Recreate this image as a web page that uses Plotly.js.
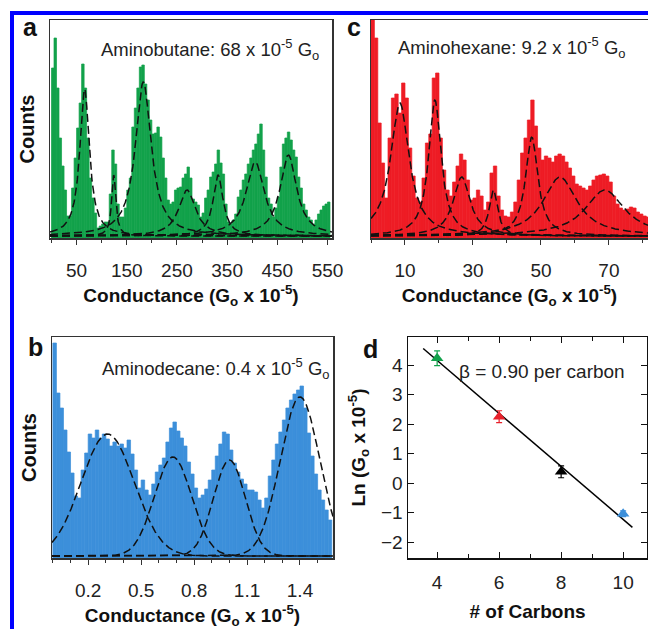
<!DOCTYPE html>
<html><head><meta charset="utf-8">
<script src="https://cdn.plot.ly/plotly-3.0.1.min.js"></script>
<style>html,body{margin:0;padding:0;background:#fff}</style>
</head><body><div id="chart" style="width:648px;height:629px"></div>
<script>
// ---------- Panel a : Aminobutane histogram (5-unit bins starting at 0) ----------
const binStartA = 0, binWidthA = 5;
const histA = [170,200,150,100,72,48,22,22,50,80, 110,135,174,150,100,60,40,25,10,12,
               14,16,16,44,88,74,34,21,21,30, 48,60,111,130,150,171,173,154,138,118,
               104,105,111,101,80,60,38,34,36,48, 50,51,60,64,71,60,39,36,33,21,
               25,40,48,61,66,74,88,75,64,34, 16,14,18,24,41,48,58,64,74,80,
               88,94,104,114,88,61,40,34,21,30, 41,71,94,100,106,98,88,81,61,50,
               34,28,21,18,14,18,24,28,32,34, 36];
const fitA_center = [66, 124, 183, 270, 332, 406, 472];
const fitA_height = [147, 61, 154, 46, 61, 74, 81];
const fitA_width  = [11.5, 5, 19, 20, 12, 22, 20];

// ---------- Panel c : Aminohexane histogram (1-unit bins starting at 0) ----------
const binStartC = 0, binWidthC = 1;
const histC = [230,200,115,75,40,100,140,144,125,155, 140,90,62,40,36,60,95,104,160,165,
               100,68,48,42,56,72,84,78,58,38, 40,48,42,28,36,65,72,42,28,22,
               21,26,36,58,85,100,118,138,112,90, 78,82,80,76,82,84,82,76,70,62,
               54,52,50,48,52,58,62,63,64,62, 56,42,34,30,28,29,31,30,26,24, 22,21];
const fitC_center = [8.5, 18.8, 26.7, 36, 47.3, 55.6, 68.8];
const fitC_height = [133, 136, 59, 46, 99, 59, 46];
const fitC_width  = [3.3, 2.2, 3, 1.5, 2.2, 6, 7];

// ---------- Panel b : Aminodecane histogram (0.02 bins starting at 0) ----------
const binStartB = 0, binWidthB = 0.02;
const histB = [215,165,150,128,106,85,62,60,88,105, 124,120,128,120,124,119,112,116,112,114,
               110,118,104,88,70,78,68,63,74,86, 93,100,116,130,136,127,120,112,96,84,
               70,60,63,69,78,88,102,114,126,124, 108,95,86,79,74,68,68,66,58,50,
               60,82,98,114,126,138,150,158,164,168, 172,150,125,102,84,68,58,48,38];
const fitB_center = [0.31, 0.68, 1.0, 1.4];
const fitB_height = [122, 99, 96, 159];
const fitB_sigma  = [0.15, 0.105, 0.09, 0.112];
const fitBase = 2;

// ---------- Panel d : Ln(G) vs number of carbons ----------
const carbons = [4, 6, 8, 10];
const lnG     = [4.23, 2.25, 0.38, -1.04];
const lnGErr  = [0.25, 0.2, 0.2, 0.1];
const pointColors = ['#12a24b', '#e8202a', '#000000', '#3c8fda'];
const fitLineX = [3.55, 10.3];
const fitLineY = [4.56, -1.5];

const W = 648, H = 629;
const px = x => x / W, py = y => 1 - y / H;
const FONT = 'Arial, "Liberation Sans", sans-serif';

function centers(start, width, n) { return Array.from({length: n}, (_, i) => start + width * (i + 0.5)); }
function grid(a, b, n) { return Array.from({length: n}, (_, i) => a + (b - a) * i / (n - 1)); }

const traces = [];
function addHist(hist, start, width, color, xa, ya) {
  traces.push({type: 'bar', x: centers(start, width, hist.length), y: hist, width: width,
    marker: {color: color, line: {width: 0.7, color: color}}, xaxis: xa, yaxis: ya, hoverinfo: 'skip', showlegend: false});
}
const fitStyle = {color: '#111', width: 1.5, dash: '8px,4px'};
function addLorentz(cs, hs, gs, r, xa, ya) {
  const xs = grid(r[0], r[1], 600);
  cs.forEach((c, i) => traces.push({type: 'scatter', mode: 'lines', x: xs,
    y: xs.map(x => fitBase + hs[i] / (1 + Math.pow((x - c) / gs[i], 2))),
    line: fitStyle, xaxis: xa, yaxis: ya, hoverinfo: 'skip', showlegend: false}));
}
function addGauss(cs, hs, ss, r, xa, ya) {
  const xs = grid(r[0], r[1], 600);
  cs.forEach((c, i) => traces.push({type: 'scatter', mode: 'lines', x: xs,
    y: xs.map(x => fitBase + hs[i] * Math.exp(-Math.pow(x - c, 2) / (2 * ss[i] * ss[i]))),
    line: fitStyle, xaxis: xa, yaxis: ya, hoverinfo: 'skip', showlegend: false}));
}

const rA = [-3, 559], rC = [0, 81.5], rB = [-0.005, 1.587];
addHist(histA, binStartA, binWidthA, '#12a24b', 'x', 'y');
addLorentz(fitA_center, fitA_height, fitA_width, rA, 'x', 'y');
addHist(histC, binStartC, binWidthC, '#ee1c25', 'x2', 'y2');
addLorentz(fitC_center, fitC_height, fitC_width, rC, 'x2', 'y2');
addHist(histB, binStartB, binWidthB, '#3c8fda', 'x3', 'y3');
addGauss(fitB_center, fitB_height, fitB_sigma, rB, 'x3', 'y3');

traces.push({type: 'scatter', mode: 'lines', x: fitLineX, y: fitLineY, line: {color: '#000', width: 1.5},
  xaxis: 'x4', yaxis: 'y4', hoverinfo: 'skip', showlegend: false});
carbons.forEach((c, i) => traces.push({type: 'scatter', mode: 'markers', x: [c], y: [lnG[i]],
  marker: {symbol: 'triangle-up', size: 11, color: pointColors[i]},
  error_y: {type: 'data', array: [lnGErr[i]], color: pointColors[i], thickness: 1.2, width: 3},
  xaxis: 'x4', yaxis: 'y4', showlegend: false}));

const lc = '#333';
const tickFont = {family: FONT, size: 19, color: '#222'};
const titleFont = {family: FONT, size: 19, color: '#111'};
const xTitle = '<b>Conductance (G<sub>o</sub> x 10<sup>-5</sup>)</b>';
function histX(domain, anchor, range, major, minorDt, tick0) {
  return {domain: domain, anchor: anchor, range: range, showline: true, linecolor: lc, linewidth: 1.5, mirror: true,
    ticks: 'outside', ticklen: 5, tickcolor: lc, tickmode: 'linear', tick0: tick0, dtick: major,
    minor: {ticks: 'outside', ticklen: 3, dtick: minorDt, tick0: 0, tickcolor: lc},
    tickfont: tickFont, ticklabelstandoff: 10, showgrid: false, zeroline: false,
    title: {text: xTitle, font: titleFont, standoff: 8}};
}
function histY(domain, anchor, range) {
  return {domain: domain, anchor: anchor, range: range, showline: true, linecolor: lc, linewidth: 1.5, mirror: true,
    ticks: '', showticklabels: false, showgrid: false, zeroline: false,
    title: {text: '<b>Counts</b>', font: {family: FONT, size: 20, color: '#111'}, standoff: 8}};
}
function topX(over, anchor, range, dt) {
  return {overlaying: over, anchor: anchor, side: 'top', range: range, ticks: 'inside', ticklen: 4, tickcolor: lc,
    tickmode: 'linear', tick0: 0, dtick: dt, showticklabels: false, showline: false, showgrid: false, zeroline: false};
}
function note(text, x, y, size, color) {
  return {text: text, x: px(x), y: py(y), xref: 'paper', yref: 'paper', xanchor: 'center', yanchor: 'middle',
    showarrow: false, font: {family: FONT, size: size, color: color}};
}

const layout = {
  width: W, height: H, margin: {l: 0, r: 0, t: 0, b: 0}, paper_bgcolor: '#fff', plot_bgcolor: '#fff',
  bargap: 0, showlegend: false, font: {family: FONT},
  xaxis: histX([px(50), px(332)], 'y', rA, 100, 50, 50),
  yaxis: histY([py(238), py(20)], 'x', [0, 218]),
  xaxis2: histX([px(371), 1], 'y2', rC, 20, 10, 10),
  yaxis2: Object.assign(histY([py(238), py(20)], 'x2', [0, 218]), {title: {text: ''}}),
  xaxis3: histX([px(52), px(333)], 'y3', rB, 0.3, 0.1, 0.2),
  yaxis3: histY([py(558), py(337)], 'x3', [0, 221]),
  xaxis4: {domain: [px(408), px(647)], anchor: 'y4', range: [3.06, 10.77], showline: true, linecolor: '#111', linewidth: 1.5,
    mirror: 'ticks', ticks: 'inside', ticklen: 6, tickcolor: '#111', tickmode: 'linear', tick0: 4, dtick: 2,
    minor: {ticks: 'inside', ticklen: 4, dtick: 1, tick0: 0, tickcolor: '#111'},
    tickfont: tickFont, ticklabelstandoff: 7, showgrid: false, zeroline: false,
    title: {text: '<b># of Carbons</b>', font: titleFont, standoff: 12}},
  yaxis4: {domain: [py(558), py(337)], anchor: 'x4', range: [-2.54, 4.95], showline: true, linecolor: '#111', linewidth: 1.5,
    mirror: 'ticks', ticks: 'inside', ticklen: 6, tickcolor: '#111', tickmode: 'linear', tick0: 0, dtick: 1,
    tickfont: tickFont, showgrid: false, zeroline: false,
    title: {text: '<b>Ln (G<sub>o</sub> x 10<sup>-5</sup>)</b>', font: titleFont, standoff: 10}},
  xaxis5: topX('x', 'y', rA, 25),
  xaxis6: topX('x2', 'y2', rC, 5),
  xaxis7: topX('x3', 'y3', rB, 0.05),
  shapes: [{type: 'rect', xref: 'paper', yref: 'paper', x0: px(12), x1: 1.2, y0: -0.2, y1: py(13),
    line: {color: '#0000ff', width: 4}, fillcolor: 'rgba(0,0,0,0)'}],
  annotations: [
    note('<b>a</b>', 30, 27, 25, '#111'),
    note('<b>c</b>', 354, 27, 25, '#111'),
    note('<b>b</b>', 35, 347, 25, '#111'),
    note('<b>d</b>', 370, 349, 25, '#111'),
    note('Aminobutane: 68 x 10<sup>-5</sup> G<sub>o</sub>', 210, 49, 18.5, '#222'),
    note('Aminohexane: 9.2 x 10<sup>-5</sup> G<sub>o</sub>', 512, 48, 18.5, '#222'),
    note('Aminodecane: 0.4 x 10<sup>-5</sup> G<sub>o</sub>', 216, 368, 18.5, '#222'),
    note('\u03b2 = 0.90 per carbon', 542, 371, 19, '#222')
  ]
};
Plotly.newPlot('chart', traces, layout, {staticPlot: true, displayModeBar: false});
</script></body></html>
